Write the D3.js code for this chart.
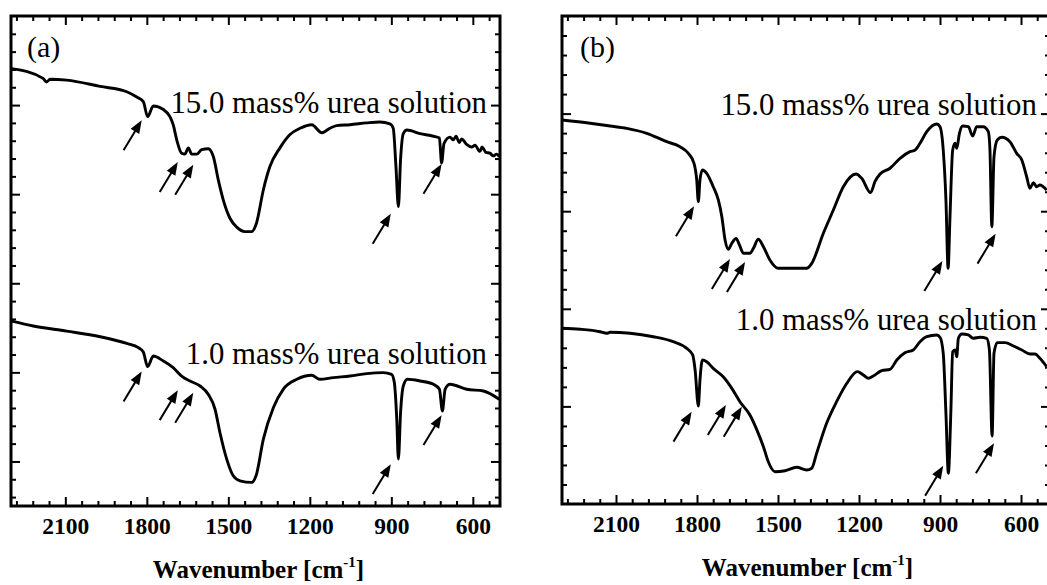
<!DOCTYPE html>
<html>
<head>
<meta charset="utf-8">
<script src="https://cdn.jsdelivr.net/npm/d3@7"></script>
<style>
	body { margin: 0; background: #fff; }
	svg { display: block; }
	text { font-family: 'Liberation Serif', 'Times New Roman', serif; fill: #000; }
	.tick text { font-weight: bold; font-size: 23.5px; font-family: 'Liberation Serif', 'Times New Roman', serif; }
	.tick line { stroke: #000; stroke-width: 2px; }
	.axis-title { font-weight: bold; font-size: 25px; }
	.sample-label { font-size: 30.8px; }
	.panel-label { font-size: 30px; }
</style>
</head>
<body>
<div id="graphic"></div>
<script>
// tick values
const xMajorTicks = [2100, 1800, 1500, 1200, 900, 600];
const xMinorTicks = d3.range(540, 2300, 60).filter((d) => !xMajorTicks.includes(d));
const yMajorTicksA = [0.5, 1.5, 2.5, 3.5, 4.5];
const yMinorTicksA = d3.range(0, 27).map((i) => +(0.1 + 0.2 * i).toFixed(1)).filter((d) => !yMajorTicksA.includes(d));
const yMajorTicksB = [1, 2, 3, 4];
const yMinorTicksB = d3.range(1, 25).map((i) => +(0.2 * i).toFixed(1)).filter((d) => !yMajorTicksB.includes(d));

// spectra [wavenumber, transmittance (a.u.)]
const spectrumA15 = [[2298, 4.91], [2182, 4.80], [2169, 4.76], [2156, 4.79], [2095, 4.78], [1972, 4.71], [1874, 4.65], [1837, 4.59], [1813, 4.54], [1797, 4.37], [1776, 4.49], [1739, 4.45], [1715, 4.37], [1703, 4.28], [1690, 4.11], [1672, 3.96], [1660, 3.95], [1647, 4.02], [1635, 3.95], [1616, 3.95], [1598, 4.00], [1574, 4.01], [1555, 3.92], [1537, 3.66], [1519, 3.44], [1494, 3.23], [1469, 3.13], [1439, 3.08], [1414, 3.08], [1396, 3.18], [1371, 3.55], [1347, 3.81], [1310, 4.02], [1273, 4.17], [1236, 4.24], [1193, 4.28], [1156, 4.19], [1126, 4.24], [1101, 4.27], [1052, 4.28], [991, 4.30], [942, 4.31], [905, 4.29], [893, 4.24], [883, 3.81], [874, 3.36], [866, 3.89], [856, 4.18], [843, 4.22], [794, 4.18], [745, 4.15], [723, 4.13], [715, 3.85], [706, 4.07], [684, 4.14], [672, 4.11], [662, 4.15], [650, 4.08], [641, 4.12], [623, 4.06], [604, 4.03], [592, 4.05], [574, 3.98], [566, 4.03], [552, 3.97], [537, 3.96], [525, 3.93], [512, 3.95], [503, 3.92]];
const spectrumA1 = [[2297, 2.075], [2218, 2.02], [2095, 1.963], [1972, 1.90], [1874, 1.825], [1831, 1.777], [1813, 1.728], [1797, 1.564], [1776, 1.683], [1739, 1.627], [1703, 1.553], [1672, 1.459], [1641, 1.403], [1604, 1.347], [1574, 1.254], [1549, 1.086], [1531, 0.825], [1506, 0.526], [1482, 0.339], [1457, 0.283], [1414, 0.265], [1398, 0.339], [1371, 0.75], [1334, 1.105], [1298, 1.31], [1248, 1.422], [1193, 1.467], [1163, 1.422], [1114, 1.441], [1052, 1.459], [991, 1.486], [930, 1.497], [899, 1.478], [889, 1.385], [880, 0.974], [874, 0.526], [866, 1.049], [856, 1.347], [841, 1.422], [794, 1.403], [745, 1.366], [723, 1.31], [712, 1.067], [702, 1.31], [684, 1.366], [623, 1.31], [561, 1.291], [503, 1.198]];
const spectrumB15 = [[2300, 3.934], [2196, 3.901], [2122, 3.873], [2060, 3.849], [1986, 3.798], [1912, 3.712], [1863, 3.661], [1832, 3.593], [1811, 3.491], [1801, 3.32], [1795, 3.097], [1789, 3.32], [1780, 3.422], [1764, 3.388], [1740, 3.251], [1721, 3.115], [1708, 2.944], [1696, 2.705], [1684, 2.61], [1671, 2.671], [1655, 2.722], [1643, 2.654], [1628, 2.569], [1604, 2.569], [1591, 2.62], [1573, 2.712], [1554, 2.636], [1530, 2.5], [1499, 2.415], [1394, 2.415], [1375, 2.466], [1332, 2.774], [1295, 3.012], [1258, 3.251], [1211, 3.381], [1190, 3.337], [1157, 3.19], [1141, 3.302], [1122, 3.381], [1085, 3.44], [1048, 3.542], [1011, 3.61], [992, 3.627], [974, 3.696], [949, 3.815], [912, 3.893], [900, 3.866], [888, 3.627], [878, 3.115], [870, 2.415], [863, 2.944], [853, 3.627], [844, 3.696], [838, 3.644], [828, 3.798], [816, 3.873], [795, 3.866], [779, 3.77], [764, 3.866], [740, 3.866], [721, 3.815], [715, 3.627], [708, 2.841], [700, 3.558], [688, 3.73], [671, 3.757], [641, 3.712], [616, 3.593], [597, 3.525], [579, 3.353], [567, 3.235], [554, 3.292], [542, 3.251], [530, 3.268], [505, 3.217]];
const spectrumB1 = [[2300, 1.80], [2233, 1.79], [2159, 1.765], [2134, 1.749], [2122, 1.759], [2048, 1.749], [1962, 1.714], [1888, 1.663], [1838, 1.595], [1816, 1.527], [1807, 1.373], [1795, 1.004], [1789, 1.27], [1780, 1.475], [1764, 1.458], [1740, 1.39], [1703, 1.304], [1671, 1.185], [1641, 1.048], [1604, 0.912], [1573, 0.724], [1554, 0.587], [1536, 0.433], [1511, 0.331], [1474, 0.341], [1431, 0.376], [1394, 0.348], [1375, 0.366], [1357, 0.519], [1320, 0.827], [1283, 1.048], [1245, 1.237], [1206, 1.356], [1184, 1.322], [1165, 1.288], [1147, 1.311], [1116, 1.366], [1085, 1.38], [1060, 1.475], [1030, 1.55], [999, 1.578], [974, 1.663], [949, 1.714], [912, 1.732], [900, 1.708], [888, 1.544], [878, 0.929], [869, 0.315], [860, 0.929], [853, 1.56], [844, 1.578], [838, 1.509], [832, 1.698], [819, 1.742], [795, 1.732], [777, 1.698], [752, 1.708], [727, 1.698], [717, 1.578], [707, 0.697], [700, 1.544], [688, 1.653], [659, 1.653], [628, 1.619], [597, 1.578], [567, 1.537], [548, 1.537], [530, 1.493], [505, 1.407]];

// arrow tips [wavenumber, transmittance]
const arrowsA15 = [[1819, 4.33], [1686, 3.86], [1629, 3.83], [902, 3.28], [715, 3.84]];
const arrowsA1 = [[1819, 1.51], [1686, 1.30], [1629, 1.27], [902, 0.47], [715, 1.02]];
const arrowsB15 = [[1811, 3.05], [1678, 2.51], [1622, 2.48], [891, 2.49], [694, 2.77]];
const arrowsB1 = [[1820, 0.946], [1693, 1.014], [1634, 0.997], [888, 0.392], [700, 0.622]];

// labels [text, wavenumber, transmittance]
const labelsA = [['15.0 mass% urea solution', 548, 4.41], ['1.0 mass% urea solution', 548, 1.59]];
const labelsB = [['15.0 mass% urea solution', 541, 3.99], ['1.0 mass% urea solution', 541, 1.78]];

const panels = [
	{ id: 'a', letter: '(a)', letterPos: [2241, 5.04], left: 11, right: 500, frameRight: 500, top: 16, bottom: 506, yDomain: [0, 5.5], yMajor: yMajorTicksA, yMinor: yMinorTicksA, spectra: [spectrumA15, spectrumA1], arrows: [arrowsA15, arrowsA1], labels: labelsA },
	{ id: 'b', letter: '(b)', letterPos: [2233, 4.58], left: 562, right: 1048, frameRight: 1050, top: 16, bottom: 504, yDomain: [0, 5], yMajor: yMajorTicksB, yMinor: yMinorTicksB, spectra: [spectrumB15, spectrumB1], arrows: [arrowsB15, arrowsB1], labels: labelsB }
];

const width = 1047;
const height = 585;
const majorLen = 9;
const minorLen = 5;

// arrow geometry (pixels)
const arrowLength = 35;
const headLength = 13;
const headWidth = 10;
const dir = [0.517, -0.856];

const svg = d3.select('#graphic')
	.append('svg')
	.attr('width', width)
	.attr('height', height);

function shaftPath(tx, ty) {
	const bx = tx - dir[0] * (headLength - 2);
	const by = ty - dir[1] * (headLength - 2);
	return 'M' + (tx - dir[0] * arrowLength) + ',' + (ty - dir[1] * arrowLength) + 'L' + bx + ',' + by;
}

function headPath(tx, ty) {
	const bx = tx - dir[0] * headLength;
	const by = ty - dir[1] * headLength;
	const nx = -dir[1] * headWidth / 2;
	const ny = dir[0] * headWidth / 2;
	return 'M' + tx + ',' + ty + 'L' + (bx + nx) + ',' + (by + ny) + 'L' + (bx - nx) + ',' + (by - ny) + 'Z';
}

function drawPanel(p) {
	const x = d3.scaleLinear().domain([2300, 500]).range([p.left, p.right]);
	const y = d3.scaleLinear().domain(p.yDomain).range([p.bottom, p.top]);
	const g = svg.append('g').attr('class', 'panel-' + p.id);

	// ticks: bottom with labels, top/left/right only marks
	const addAxis = (axis, transform, ticks, len, labels) => {
		const a = g.append('g')
			.attr('transform', transform)
			.call(axis.tickValues(ticks).tickSize(-len).tickPadding(11).tickFormat(labels ? d3.format('d') : ''));
		a.select('.domain').remove();
		return a;
	};

	addAxis(d3.axisBottom(x), 'translate(0,' + p.bottom + ')', xMinorTicks, minorLen, false);
	addAxis(d3.axisBottom(x), 'translate(0,' + p.bottom + ')', xMajorTicks, majorLen, true);
	addAxis(d3.axisTop(x), 'translate(0,' + p.top + ')', xMinorTicks, minorLen, false);
	addAxis(d3.axisTop(x), 'translate(0,' + p.top + ')', xMajorTicks, majorLen, false);
	addAxis(d3.axisLeft(y), 'translate(' + p.left + ',0)', p.yMinor, minorLen, false);
	addAxis(d3.axisLeft(y), 'translate(' + p.left + ',0)', p.yMajor, majorLen, false);
	addAxis(d3.axisRight(y), 'translate(' + p.frameRight + ',0)', p.yMinor, minorLen, false);
	addAxis(d3.axisRight(y), 'translate(' + p.frameRight + ',0)', p.yMajor, majorLen, false);

	// frame
	g.append('rect')
		.attr('x', p.left)
		.attr('y', p.top)
		.attr('width', p.frameRight - p.left)
		.attr('height', p.bottom - p.top)
		.attr('fill', 'none')
		.attr('stroke', '#000')
		.attr('stroke-width', 3);

	// spectra
	const line = d3.line()
		.curve(d3.curveMonotoneX)
		.x((d) => x(d[0]))
		.y((d) => y(d[1]));

	g.selectAll('path.spectrum')
		.data(p.spectra)
		.join('path')
		.attr('class', 'spectrum')
		.attr('d', line)
		.attr('fill', 'none')
		.attr('stroke', '#000')
		.attr('stroke-width', 2.9)
		.attr('stroke-linejoin', 'round');

	// arrows
	const tips = p.arrows.flat();
	g.selectAll('path.arrow-shaft')
		.data(tips)
		.join('path')
		.attr('class', 'arrow-shaft')
		.attr('d', (d) => shaftPath(x(d[0]), y(d[1])))
		.attr('stroke', '#000')
		.attr('stroke-width', 2);

	g.selectAll('path.arrow-head')
		.data(tips)
		.join('path')
		.attr('class', 'arrow-head')
		.attr('d', (d) => headPath(x(d[0]), y(d[1])))
		.attr('fill', '#000');

	// sample labels
	g.selectAll('text.sample-label')
		.data(p.labels)
		.join('text')
		.attr('class', 'sample-label')
		.attr('text-anchor', 'end')
		.attr('x', (d) => x(d[1]))
		.attr('y', (d) => y(d[2]))
		.text((d) => d[0]);

	// panel letter
	g.append('text')
		.attr('class', 'panel-label')
		.attr('x', x(p.letterPos[0]))
		.attr('y', y(p.letterPos[1]))
		.text(p.letter);

	// x-axis title
	const title = g.append('text')
		.attr('class', 'axis-title')
		.attr('text-anchor', 'middle')
		.attr('x', (p.left + Math.min(p.right, width)) / 2 + 3)
		.attr('y', p.bottom + 72);
	title.append('tspan').text('Wavenumber [cm');
	title.append('tspan').attr('font-size', '15px').attr('dy', -11).text('-1');
	title.append('tspan').attr('dy', 11).text(']');
}

panels.forEach(drawPanel);
</script>
</body>
</html>
